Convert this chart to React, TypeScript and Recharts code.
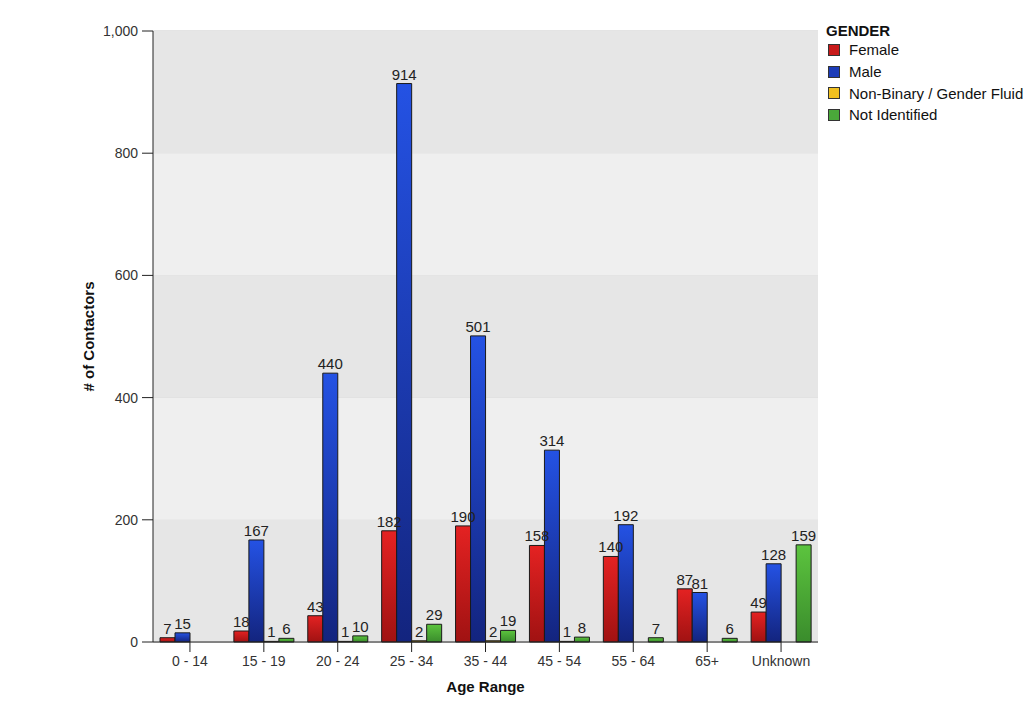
import { BarChart, Bar, XAxis, YAxis, CartesianGrid, LabelList, Legend, ReferenceArea } from "recharts";

const categories = ["0 - 14", "15 - 19", "20 - 24", "25 - 34", "35 - 44", "45 - 54", "55 - 64", "65+", "Unknown"];
const female = [7, 18, 43, 182, 190, 158, 140, 87, 49];
const male = [15, 167, 440, 914, 501, 314, 192, 81, 128];
const nonBinary = [0, 1, 1, 2, 2, 1, 0, 0, 0];
const notIdentified = [0, 6, 10, 29, 19, 8, 7, 6, 159];
const yTicks = [0, 200, 400, 600, 800, 1000];

const series = [
  { key: "female", name: "Female", top: "#e42222", bottom: "#a01212", swatch: "#c81a1a" },
  { key: "male", name: "Male", top: "#2452e4", bottom: "#13247e", swatch: "#1c3cb8" },
  { key: "nonBinary", name: "Non-Binary / Gender Fluid", top: "#f6cc2a", bottom: "#d29a10", swatch: "#f0c020" },
  { key: "notIdentified", name: "Not Identified", top: "#5cc43e", bottom: "#3a8c2c", swatch: "#4aa83a" },
];

const data = categories.map((c, i) => ({
  cat: c,
  female: female[i],
  male: male[i],
  nonBinary: nonBinary[i],
  notIdentified: notIdentified[i],
}));

const FONT = "'Liberation Sans', Arial, sans-serif";

const hideZero = (v: any) => (Number(v) === 0 ? "" : String(v));

function LegendBox() {
  return (
    <div style={{ fontFamily: FONT, fontSize: 15, color: "#111" }}>
      <div style={{ fontWeight: "bold", lineHeight: "16px" }}>GENDER</div>
      {series.map((s) => (
        <div key={s.key} style={{ display: "flex", alignItems: "center", height: 21.7 }}>
          <span
            style={{
              display: "inline-block",
              width: 10,
              height: 10,
              background: s.swatch,
              border: "1px solid #333",
              marginLeft: 2,
              marginRight: 9,
            }}
          />
          <span>{s.name}</span>
        </div>
      ))}
    </div>
  );
}

function YTitle(props: any) {
  const vb = props.viewBox;
  const x = vb.x + 5;
  const y = vb.y + vb.height / 2;
  return (
    <text
      x={x}
      y={y}
      transform={`rotate(-90 ${x} ${y})`}
      textAnchor="middle"
      dominantBaseline="central"
      fontFamily={FONT}
      fontSize={15}
      fontWeight="bold"
      fill="#111"
    >
      # of Contactors
    </text>
  );
}

export default function App() {
  return (
    <div style={{ position: "absolute", left: 0, top: 0, background: "#fff" }}>
      <BarChart
        width={1035}
        height={705}
        data={data}
        margin={{ top: 31, right: 217, left: 83, bottom: 13 }}
        barSize={15}
        barGap={0}
      >
        <defs>
          {series.map((s) => (
            <linearGradient key={s.key} id={`g-${s.key}`} x1="0" y1="0" x2="0" y2="1">
              <stop offset="0%" stopColor={s.top} />
              <stop offset="100%" stopColor={s.bottom} />
            </linearGradient>
          ))}
        </defs>
        {yTicks.slice(0, -1).map((t, i) => (
          <ReferenceArea
            key={t}
            y1={t}
            y2={yTicks[i + 1]}
            fill={i % 2 === 0 ? "#e6e6e6" : "#efefef"}
            fillOpacity={1}
            stroke="none"
            ifOverflow="hidden"
          />
        ))}
        <CartesianGrid vertical={false} stroke="#c8c8c8" />
        <XAxis
          dataKey="cat"
          height={50}
          tickSize={10}
          tickMargin={4}
          stroke="#222"
          tick={{ fill: "#333", fontSize: 14, fontFamily: FONT }}
          label={{
            value: "Age Range",
            position: "insideBottom",
            offset: 0,
            fill: "#111",
            fontSize: 15,
            fontWeight: "bold",
            fontFamily: FONT,
          }}
        />
        <YAxis
          width={70}
          domain={[0, 1000]}
          ticks={yTicks}
          tickSize={11}
          tickMargin={4}
          stroke="#222"
          tick={{ fill: "#333", fontSize: 14, fontFamily: FONT }}
          tickFormatter={(v: number) => v.toLocaleString("en-US")}
          label={{ content: YTitle }}
        />
        <Legend
          layout="horizontal"
          verticalAlign="middle"
          align="center"
          content={() => <LegendBox />}
          wrapperStyle={{ left: 826, top: 23, right: "auto", width: 209 }}
        />
        {series.map((s) => (
          <Bar
            key={s.key}
            dataKey={s.key}
            name={s.name}
            fill={`url(#g-${s.key})`}
            stroke="#1a1a1a"
            strokeWidth={1}
            isAnimationActive={false}
          >
            <LabelList
              dataKey={s.key}
              position="top"
              offset={4}
              formatter={hideZero}
              fill="#222"
              fontSize={15}
              fontFamily={FONT}
            />
          </Bar>
        ))}
      </BarChart>
    </div>
  );
}
